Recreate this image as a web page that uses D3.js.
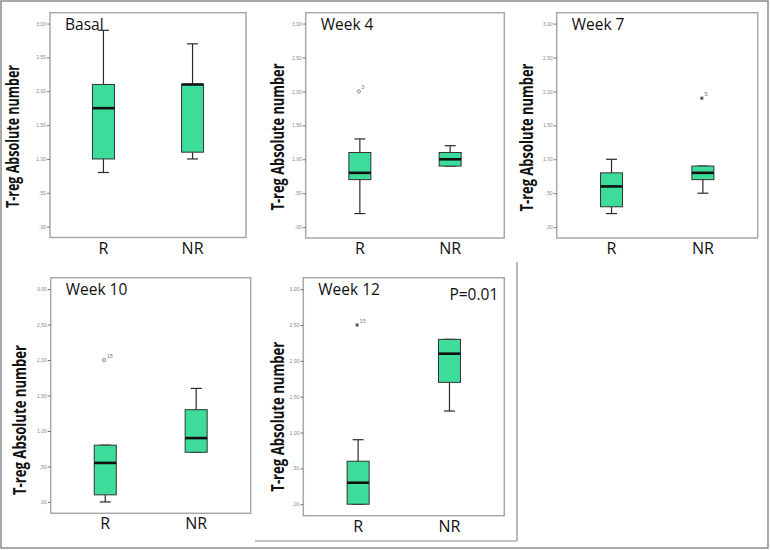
<!DOCTYPE html>
<html>
<head>
<meta charset="utf-8">
<script src="https://cdn.jsdelivr.net/npm/d3@7"></script>
<style>
  html, body { margin: 0; padding: 0; background: #fff; }
  svg { display: block; }
</style>
</head>
<body>
<svg id="chart" width="770" height="550"></svg>
<script>
// ---------- data ----------
const panelTitles = ["Basal", "Week 4", "Week 7", "Week 10", "Week 12"];
const groups = ["R", "NR"];
const yTickValues = [0, 0.5, 1, 1.5, 2, 2.5, 3];
const yTickLabels = [",00", ",50", "1,00", "1,50", "2,00", "2,50", "3,00"];
const yTitles = ["T-reg Absolute number", "T-reg Absolute number", "T-reg Absolute number",
                 "T-reg  Absolute number", "T-reg Absolute number"];
// box stats per panel: [min, q1, median, q3, max] for R then NR
const statsR = [
  [0.8, 1.0, 1.75, 2.1, 2.9],
  [0.2, 0.7, 0.8, 1.1, 1.3],
  [0.2, 0.3, 0.6, 0.8, 1.0],
  [0.0, 0.1, 0.55, 0.8, 0.8],
  [0.0, 0.0, 0.3, 0.6, 0.9]
];
const statsNR = [
  [1.0, 1.1, 2.1, 2.1, 2.7],
  [0.9, 0.9, 1.0, 1.1, 1.2],
  [0.5, 0.7, 0.8, 0.9, 0.9],
  [0.7, 0.7, 0.9, 1.3, 1.6],
  [1.3, 1.7, 2.1, 2.3, 2.3]
];
// outliers: [panelIndex, group, value, caseLabel, symbol]
const outliers = [
  [1, "R", 2.0, "3", "circle"],
  [2, "NR", 1.9, "5", "star"],
  [3, "R", 2.0, "15", "circle"],
  [4, "R", 2.5, "15", "star"]
];
const pValueText = ["", "", "", "", "P=0.01"];

// ---------- layout ----------
const frames = [
  {x0: 50,    x1: 246,   y0: 12.7,  y1: 237.5, tx: 19,  ty: 136.5, tl: 143},
  {x0: 305.7, x1: 504.3, y0: 12.7,  y1: 238,   tx: 284, ty: 137,   tl: 147},
  {x0: 556.7, x1: 757.7, y0: 12.7,  y1: 238,   tx: 533, ty: 137.5, tl: 148},
  {x0: 50.7,  x1: 250.7, y0: 277.7, y1: 513.3, tx: 26,  ty: 420,   tl: 150},
  {x0: 303.3, x1: 504.3, y0: 277.7, y1: 515.7, tx: 284, ty: 416.7, tl: 150}
];
const fill = "#3ddc9b";
const dark = "#2a2a2a";
const frameCol = "#a3aaa9";

const svg = d3.select("#chart");

// outer frame
svg.append("rect").attr("x", 1).attr("y", 1).attr("width", 767).attr("height", 547)
  .attr("fill", "none").attr("stroke", "#8c8c8c").attr("stroke-width", 1.5);
svg.append("line").attr("x1", 517).attr("x2", 517).attr("y1", 262).attr("y2", 541)
  .attr("stroke", "#8c8c8c").attr("stroke-width", 1.2);
svg.append("line").attr("x1", 255).attr("x2", 517).attr("y1", 541).attr("y2", 541)
  .attr("stroke", "#8c8c8c").attr("stroke-width", 1.2);

panelTitles.forEach((title, i) => {
  const f = frames[i];
  const g = svg.append("g");
  const y = d3.scaleLinear().domain([-0.16, 3.16]).range([f.y1, f.y0]);
  const x = d3.scalePoint().domain(groups).range([f.x0, f.x1]).padding(0.6);

  // frame
  g.append("rect").attr("x", f.x0).attr("y", f.y0)
    .attr("width", f.x1 - f.x0).attr("height", f.y1 - f.y0)
    .attr("fill", "#fff").attr("stroke", frameCol).attr("stroke-width", 1.5);

  // y axis
  const ax = g.append("g").attr("transform", `translate(${f.x0},0)`)
    .call(d3.axisLeft(y).tickValues(yTickValues)
      .tickFormat((d, k) => yTickLabels[k]).tickSize(3).tickPadding(1));
  ax.select(".domain").remove();
  ax.selectAll(".tick line").attr("stroke", "#777");
  ax.selectAll(".tick text").attr("fill", "#888").attr("font-size", 5)
    .attr("font-family", "Liberation Sans, Arial, sans-serif");

  // x labels
  groups.forEach(gr => {
    g.append("text").attr("x", x(gr)).attr("y", f.y1 + 16)
      .attr("text-anchor", "middle").attr("font-size", 16)
      .attr("font-family", "Open Sans, sans-serif").attr("fill", "#111").text(gr);
  });

  // y title
  g.append("text")
    .attr("transform", `translate(${f.tx},${f.ty}) rotate(-90)`)
    .attr("text-anchor", "middle").attr("font-size", 17.5).attr("font-weight", "bold")
    .attr("font-family", "Open Sans, sans-serif").attr("fill", "#111")
    .attr("textLength", f.tl).attr("lengthAdjust", "spacingAndGlyphs")
    .text(yTitles[i]);

  // panel title
  g.append("text").attr("x", f.x0 + 15).attr("y", f.y0 + 17)
    .attr("font-size", 15.5).attr("font-family", "Open Sans, sans-serif")
    .attr("fill", "#111").text(title);
  if (pValueText[i]) {
    g.append("text").attr("x", f.x1 - 6).attr("y", f.y0 + 22)
      .attr("text-anchor", "end").attr("font-size", 15.5)
      .attr("font-family", "Open Sans, sans-serif").attr("fill", "#111").text(pValueText[i]);
  }

  // boxes
  const bw = 22, cw = 11;
  [[ "R", statsR[i] ], [ "NR", statsNR[i] ]].forEach(([gr, s]) => {
    const cx = x(gr);
    const [mn, q1, md, q3, mx] = s;
    g.append("line").attr("x1", cx).attr("x2", cx).attr("y1", y(q3)).attr("y2", y(mx))
      .attr("stroke", dark).attr("stroke-width", 1.2);
    g.append("line").attr("x1", cx).attr("x2", cx).attr("y1", y(q1)).attr("y2", y(mn))
      .attr("stroke", dark).attr("stroke-width", 1.2);
    g.append("line").attr("x1", cx - cw / 2).attr("x2", cx + cw / 2).attr("y1", y(mx)).attr("y2", y(mx))
      .attr("stroke", dark).attr("stroke-width", 1.2);
    g.append("line").attr("x1", cx - cw / 2).attr("x2", cx + cw / 2).attr("y1", y(mn)).attr("y2", y(mn))
      .attr("stroke", dark).attr("stroke-width", 1.2);
    g.append("rect").attr("x", cx - bw / 2).attr("y", y(q3))
      .attr("width", bw).attr("height", Math.max(0.5, y(q1) - y(q3)))
      .attr("fill", fill).attr("stroke", "#333").attr("stroke-width", 1);
    g.append("line").attr("x1", cx - bw / 2).attr("x2", cx + bw / 2).attr("y1", y(md)).attr("y2", y(md))
      .attr("stroke", "#111").attr("stroke-width", 2.6);
  });

  // outliers
  outliers.filter(o => o[0] === i).forEach(([pi, gr, v, lab, sym]) => {
    const cx = x(gr);
    if (sym === "circle") {
      g.append("circle").attr("cx", cx - 1).attr("cy", y(v)).attr("r", 1.6)
        .attr("fill", "none").attr("stroke", "#666").attr("stroke-width", 0.8);
    } else {
      g.append("path").attr("d", d3.symbol(d3.symbolAsterisk, 10)())
        .attr("transform", `translate(${cx - 1},${y(v)})`)
        .attr("fill", "none").attr("stroke", "#444").attr("stroke-width", 1);
    }
    g.append("text").attr("x", cx + 1.5).attr("y", y(v) - 2)
      .attr("font-size", 5.5).attr("fill", "#777")
      .attr("font-family", "Liberation Sans, Arial, sans-serif").text(lab);
  });
});
</script>
</body>
</html>
